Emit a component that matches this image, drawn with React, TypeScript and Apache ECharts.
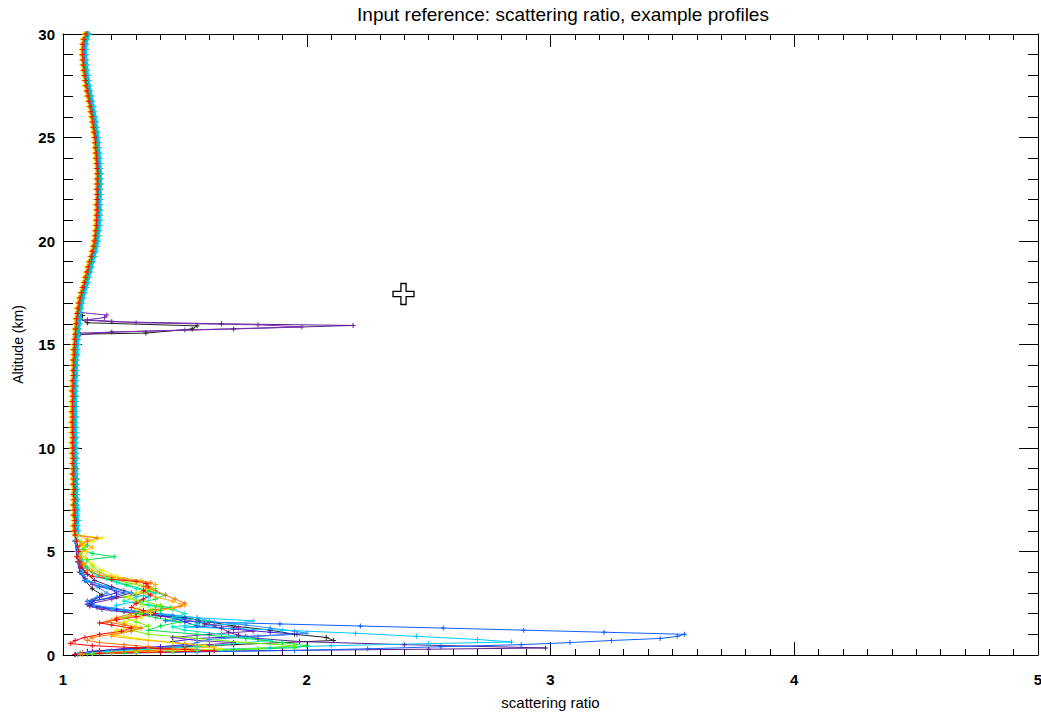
import React, { useEffect, useRef } from "react";
import * as echarts from "echarts";

const TITLE = "Input reference: scattering ratio, example profiles";
const X_NAME = "scattering ratio";
const Y_NAME = "Altitude (km)";
const X_MIN = 1;
const X_MAX = 5;
const Y_MIN = 0;
const Y_MAX = 30;

// Upper (free troposphere / stratosphere) common profile, altitude grid 6..30 km every 0.25 km
const UPPER_ALT_START = 6;
const UPPER_ALT_STEP = 0.25;
const upperBase = [
  1.048, 1.046, 1.049, 1.045, 1.047, 1.044, 1.046, 1.043, 1.045, 1.043,
  1.044, 1.041, 1.043, 1.040, 1.042, 1.040, 1.041, 1.039, 1.041, 1.039,
  1.040, 1.038, 1.040, 1.038, 1.040, 1.039, 1.041, 1.039, 1.041, 1.040,
  1.043, 1.042, 1.044, 1.043, 1.046, 1.045, 1.048, 1.049, 1.051, 1.052,
  1.055, 1.056, 1.059, 1.062, 1.066, 1.070, 1.076, 1.082, 1.088, 1.093,
  1.099, 1.104, 1.110, 1.116, 1.121, 1.126, 1.130, 1.133, 1.135, 1.137,
  1.138, 1.139, 1.140, 1.139, 1.140, 1.141, 1.140, 1.142, 1.141, 1.142,
  1.140, 1.139, 1.137, 1.136, 1.134, 1.133, 1.131, 1.128, 1.125, 1.122,
  1.119, 1.115, 1.111, 1.107, 1.103, 1.099, 1.095, 1.092, 1.089, 1.086,
  1.084, 1.082, 1.081, 1.081, 1.082, 1.086, 1.094,
];

const profileColors = [
  "#222222", "#5a1e8c", "#7b2fb0", "#4020e0", "#1060ff", "#2a90ff", "#00c8ff",
  "#00e8c0", "#00e050", "#70f000", "#e8f000", "#ffb000", "#ff7000", "#ff0000",
];
const profileShift = [
  0.004, 0.006, 0.006, 0.008, 0.010, 0.012, 0.016,
  0.009, 0.003, -0.003, -0.007, -0.005, -0.002, 0.0,
];

// Lower parts: [altitude km, scattering ratio]
const lowerP0 = [[5.8,1.052],[5.5,1.052],[5.0,1.06],[4.5,1.06],[4.0,1.07],[3.6,1.09],[3.2,1.12],[2.9,1.16],[2.6,1.12],[2.4,1.11],[2.2,1.20],[2.0,1.35],[1.8,1.50],[1.6,1.60],[1.4,1.70],[1.2,1.85],[1.0,1.95],[0.85,2.08],[0.7,2.11],[0.6,1.90],[0.5,1.70],[0.4,1.50],[0.3,1.30],[0.2,1.15],[0.1,1.08],[0.03,1.05]];
const lowerP1 = [[5.8,1.054],[5.5,1.05],[5.0,1.06],[4.6,1.07],[4.2,1.08],[3.9,1.10],[3.6,1.13],[3.3,1.20],[3.0,1.28],[2.8,1.22],[2.6,1.12],[2.45,1.10],[2.3,1.14],[2.1,1.25],[1.9,1.40],[1.7,1.55],[1.5,1.58],[1.3,1.65],[1.1,1.68],[0.95,1.72],[0.8,1.80],[0.65,1.97],[0.5,2.40],[0.34,2.98],[0.28,2.50],[0.22,1.90],[0.15,1.40],[0.08,1.15],[0.02,1.06]];
const lowerP2 = [[5.8,1.054],[5.5,1.05],[5.0,1.06],[4.5,1.07],[4.0,1.08],[3.7,1.09],[3.4,1.12],[3.1,1.25],[2.9,1.30],[2.7,1.20],[2.5,1.12],[2.35,1.11],[2.2,1.16],[2.0,1.30],[1.8,1.45],[1.6,1.55],[1.45,1.62],[1.3,1.72],[1.15,1.78],[1.0,1.60],[0.85,1.45],[0.7,1.55],[0.6,1.70],[0.5,1.60],[0.4,1.40],[0.3,1.25],[0.2,1.15],[0.1,1.08],[0.03,1.05]];
const lowerP3 = [[5.8,1.056],[5.5,1.05],[5.0,1.055],[4.5,1.06],[4.0,1.07],[3.6,1.10],[3.3,1.18],[3.0,1.22],[2.8,1.15],[2.6,1.10],[2.4,1.12],[2.2,1.22],[2.0,1.35],[1.8,1.45],[1.6,1.50],[1.4,1.55],[1.25,1.70],[1.1,1.85],[1.0,1.96],[0.9,1.75],[0.8,1.55],[0.65,1.45],[0.5,1.50],[0.4,1.40],[0.3,1.25],[0.18,1.12],[0.08,1.07],[0.02,1.05]];
const lowerP4 = [[5.8,1.058],[5.5,1.05],[5.0,1.055],[4.5,1.06],[4.0,1.07],[3.6,1.09],[3.3,1.15],[3.0,1.25],[2.8,1.20],[2.6,1.12],[2.45,1.10],[2.3,1.15],[2.1,1.30],[1.9,1.45],[1.75,1.50],[1.65,1.42],[1.6,1.56],[1.5,1.89],[1.4,2.22],[1.3,2.56],[1.2,2.89],[1.1,3.22],[1.0,3.55],[0.9,3.52],[0.8,3.45],[0.7,3.25],[0.6,3.08],[0.5,2.88],[0.4,2.55],[0.3,2.25],[0.22,1.95],[0.15,1.55],[0.08,1.20],[0.02,1.06]];
const lowerP5 = [[5.8,1.06],[5.5,1.05],[5.0,1.06],[4.5,1.06],[4.0,1.08],[3.6,1.10],[3.3,1.14],[3.0,1.18],[2.8,1.14],[2.6,1.10],[2.4,1.13],[2.2,1.25],[2.0,1.40],[1.8,1.55],[1.6,1.62],[1.45,1.75],[1.3,1.85],[1.15,1.95],[1.05,2.00],[0.9,1.80],[0.75,1.60],[0.6,1.55],[0.45,1.50],[0.3,1.35],[0.2,1.20],[0.1,1.10],[0.03,1.06]];
const lowerP6 = [[5.8,1.062],[5.5,1.055],[5.0,1.06],[4.5,1.065],[4.0,1.08],[3.6,1.10],[3.3,1.18],[3.0,1.28],[2.8,1.35],[2.6,1.30],[2.4,1.22],[2.2,1.20],[2.0,1.35],[1.8,1.55],[1.65,1.78],[1.5,1.70],[1.35,1.50],[1.2,1.90],[1.05,2.20],[0.9,2.45],[0.75,2.70],[0.63,2.84],[0.55,2.50],[0.45,2.10],[0.35,1.85],[0.25,1.55],[0.15,1.30],[0.07,1.12],[0.02,1.06]];
const lowerP7 = [[5.8,1.056],[5.5,1.05],[5.0,1.07],[4.6,1.08],[4.2,1.10],[3.8,1.14],[3.5,1.22],[3.2,1.30],[3.0,1.38],[2.8,1.30],[2.6,1.25],[2.4,1.35],[2.2,1.45],[2.0,1.50],[1.8,1.45],[1.65,1.60],[1.5,1.55],[1.35,1.45],[1.2,1.50],[1.0,1.65],[0.85,1.75],[0.7,1.85],[0.55,1.70],[0.4,1.55],[0.28,1.35],[0.15,1.18],[0.05,1.08]];
const lowerP8 = [[5.8,1.052],[5.5,1.06],[5.3,1.10],[5.1,1.08],[4.9,1.12],[4.75,1.21],[4.6,1.10],[4.3,1.09],[4.0,1.12],[3.7,1.18],[3.4,1.26],[3.1,1.35],[2.9,1.42],[2.7,1.38],[2.5,1.30],[2.3,1.44],[2.15,1.40],[2.0,1.30],[1.8,1.38],[1.6,1.48],[1.4,1.40],[1.2,1.35],[1.0,1.55],[0.8,1.75],[0.6,1.90],[0.45,2.00],[0.35,1.95],[0.25,1.70],[0.17,1.45],[0.10,1.25],[0.04,1.10]];
const lowerP9 = [[5.8,1.046],[5.5,1.07],[5.2,1.09],[4.9,1.07],[4.6,1.10],[4.3,1.12],[4.0,1.15],[3.7,1.20],[3.45,1.28],[3.2,1.38],[3.0,1.33],[2.8,1.25],[2.6,1.33],[2.4,1.40],[2.2,1.36],[2.0,1.32],[1.8,1.25],[1.6,1.30],[1.4,1.35],[1.2,1.28],[1.0,1.35],[0.8,1.55],[0.6,1.75],[0.45,1.95],[0.32,1.80],[0.22,1.55],[0.12,1.30],[0.05,1.12]];
const lowerP10 = [[5.8,1.06],[5.65,1.16],[5.5,1.12],[5.3,1.08],[5.0,1.10],[4.7,1.09],[4.4,1.12],[4.1,1.16],[3.8,1.22],[3.5,1.30],[3.25,1.35],[3.0,1.30],[2.8,1.27],[2.6,1.30],[2.4,1.33],[2.2,1.30],[2.0,1.36],[1.8,1.32],[1.6,1.25],[1.4,1.30],[1.2,1.22],[1.0,1.20],[0.8,1.30],[0.6,1.45],[0.45,1.58],[0.3,1.65],[0.2,1.45],[0.1,1.20],[0.04,1.08]];
const lowerP11 = [[5.8,1.055],[5.6,1.10],[5.4,1.08],[5.2,1.12],[5.0,1.08],[4.7,1.07],[4.4,1.09],[4.1,1.12],[3.8,1.20],[3.6,1.32],[3.4,1.38],[3.2,1.36],[3.0,1.32],[2.8,1.38],[2.6,1.45],[2.4,1.50],[2.25,1.45],[2.1,1.35],[1.9,1.28],[1.7,1.20],[1.5,1.25],[1.3,1.30],[1.1,1.25],[0.9,1.20],[0.7,1.35],[0.55,1.50],[0.4,1.62],[0.3,1.50],[0.2,1.30],[0.1,1.15],[0.04,1.07]];
const lowerP12 = [[5.8,1.05],[5.65,1.14],[5.5,1.10],[5.3,1.07],[5.0,1.06],[4.7,1.07],[4.4,1.08],[4.1,1.10],[3.85,1.15],[3.65,1.25],[3.5,1.36],[3.3,1.33],[3.1,1.38],[2.9,1.42],[2.7,1.46],[2.5,1.50],[2.35,1.48],[2.2,1.38],[2.0,1.28],[1.8,1.22],[1.6,1.18],[1.45,1.25],[1.3,1.32],[1.15,1.28],[1.0,1.20],[0.85,1.12],[0.7,1.10],[0.6,1.15],[0.5,1.25],[0.4,1.35],[0.3,1.45],[0.2,1.35],[0.12,1.20],[0.05,1.08]];
const lowerP13 = [[5.8,1.05],[5.5,1.055],[5.25,1.06],[5.0,1.065],[4.75,1.055],[4.5,1.065],[4.25,1.07],[4.0,1.09],[3.8,1.12],[3.65,1.20],[3.55,1.30],[3.45,1.34],[3.3,1.35],[3.1,1.33],[2.9,1.36],[2.7,1.33],[2.5,1.30],[2.3,1.28],[2.15,1.33],[2.0,1.38],[1.85,1.30],[1.7,1.22],[1.55,1.15],[1.45,1.20],[1.3,1.28],[1.15,1.24],[1.0,1.15],[0.85,1.09],[0.7,1.05],[0.55,1.03],[0.45,1.12],[0.35,1.30],[0.27,1.50],[0.2,1.62],[0.14,1.40],[0.08,1.15],[0.03,1.05]];

const lowerParts = [lowerP0, lowerP1, lowerP2, lowerP3, lowerP4, lowerP5, lowerP6, lowerP7, lowerP8, lowerP9, lowerP10, lowerP11, lowerP12, lowerP13];

// Thin cloud near the tropopause (16 km) seen in three profiles
const spikeP0 = [[15.4,1.05],[15.5,1.07],[15.55,1.34],[15.75,1.53],[15.9,1.55],[16.05,1.10],[16.25,1.07],[16.4,1.08],[16.55,1.06]];
const spikeP1 = [[15.45,1.055],[15.6,1.20],[15.75,1.70],[15.92,2.19],[16.0,1.65],[16.1,1.20],[16.2,1.065]];
const spikeP2 = [[15.55,1.058],[15.7,1.50],[15.85,1.98],[15.95,1.80],[16.05,1.30],[16.2,1.10],[16.3,1.17],[16.42,1.18],[16.55,1.07]];
const spikes: Record<number, number[][]> = { 0: spikeP0, 1: spikeP1, 2: spikeP2 };

const PLUS = "path://M-0.6,-3H0.6V-0.6H3V0.6H0.6V3H-0.6V0.6H-3V-0.6H-0.6Z";

function buildProfile(p: number): number[][] {
  const pts: number[][] = [];
  lowerParts[p].forEach(([alt, x]) => pts.push([x, alt]));
  const spike = spikes[p];
  let sMin = Infinity, sMax = -Infinity;
  if (spike) {
    spike.forEach(([alt]) => { sMin = Math.min(sMin, alt); sMax = Math.max(sMax, alt); });
    spike.forEach(([alt, x]) => pts.push([x, alt]));
  }
  upperBase.forEach((v, i) => {
    const alt = UPPER_ALT_START + i * UPPER_ALT_STEP;
    if (spike && alt >= sMin && alt <= sMax) return;
    pts.push([v + profileShift[p], alt]);
  });
  pts.sort((a, b) => a[1] - b[1]);
  return pts;
}

export default function App() {
  const ref = useRef<HTMLDivElement>(null);
  useEffect(() => {
    if (!ref.current) return;
    const chart = echarts.init(ref.current, undefined, { renderer: "svg" });
    const font = "'Liberation Sans', Arial, Helvetica, sans-serif";
    const axisCommon = {
      axisLine: { show: true, onZero: false, lineStyle: { color: "#000", width: 1 } },
      splitLine: { show: false },
      minorSplitLine: { show: false },
    };
    const series = profileColors.map((color, p) => ({
      type: "line",
      data: buildProfile(p),
      xAxisIndex: 0,
      yAxisIndex: 0,
      symbol: PLUS,
      symbolSize: 5,
      showSymbol: true,
      itemStyle: { color },
      lineStyle: { color, width: 1 },
      emphasis: { disabled: true },
      silent: true,
      clip: true,
    }));
    const cx = 403.5, cy = 294, L = 10.5, W = 2.6;
    chart.setOption({
      animation: false,
      backgroundColor: "#fff",
      title: {
        text: TITLE,
        left: 558,
        top: 0,
        textAlign: "center",
        textStyle: { fontFamily: font, fontSize: 19, fontWeight: "normal", color: "#000" },
      },
      grid: { left: 63, right: 3, top: 34, bottom: 60, containLabel: false, outerBoundsMode: "none" },
      xAxis: [
        {
          type: "value", position: "bottom", min: X_MIN, max: X_MAX, interval: 1,
          name: X_NAME, nameLocation: "middle", nameGap: 40,
          nameTextStyle: { fontFamily: font, fontSize: 15, color: "#000" },
          ...axisCommon,
          axisTick: { show: true, inside: true, length: 13, lineStyle: { color: "#000" } },
          minorTick: { show: true, splitNumber: 10, length: 6, lineStyle: { color: "#000" } },
          axisLabel: { show: true, margin: 17, fontFamily: font, fontSize: 15, fontWeight: "bold", color: "#000" },
        },
        {
          type: "value", position: "top", min: X_MIN, max: X_MAX, interval: 1,
          ...axisCommon,
          axisTick: { show: true, inside: true, length: 13, lineStyle: { color: "#000" } },
          minorTick: { show: true, splitNumber: 10, length: 6, lineStyle: { color: "#000" } },
          axisLabel: { show: false },
        },
      ],
      yAxis: [
        {
          type: "value", position: "left", min: Y_MIN, max: Y_MAX, interval: 5,
          name: Y_NAME, nameLocation: "middle", nameGap: 38, nameRotate: 90,
          nameTextStyle: { fontFamily: font, fontSize: 14, color: "#000" },
          ...axisCommon,
          axisTick: { show: true, inside: true, length: 19, lineStyle: { color: "#000" } },
          minorTick: { show: true, splitNumber: 5, length: 10, lineStyle: { color: "#000" } },
          axisLabel: { show: true, margin: 8, fontFamily: font, fontSize: 15, fontWeight: "bold", color: "#000" },
        },
        {
          type: "value", position: "right", min: Y_MIN, max: Y_MAX, interval: 5,
          ...axisCommon,
          axisTick: { show: true, inside: true, length: 19, lineStyle: { color: "#000" } },
          minorTick: { show: true, splitNumber: 5, length: 10, lineStyle: { color: "#000" } },
          axisLabel: { show: false },
        },
      ],
      series,
      graphic: [
        {
          type: "polygon",
          silent: true,
          z: 100,
          shape: {
            points: [
              [cx - W, cy - L], [cx + W, cy - L], [cx + W, cy - W], [cx + L, cy - W],
              [cx + L, cy + W], [cx + W, cy + W], [cx + W, cy + L], [cx - W, cy + L],
              [cx - W, cy + W], [cx - L, cy + W], [cx - L, cy - W], [cx - W, cy - W],
            ],
          },
          style: { fill: "#fff", stroke: "#000", lineWidth: 1.3 },
        },
      ],
    });
    return () => chart.dispose();
  }, []);
  return (
    <div
      ref={ref}
      style={{ position: "fixed", left: 0, top: 0, width: 1041, height: 715, background: "#fff" }}
    />
  );
}
